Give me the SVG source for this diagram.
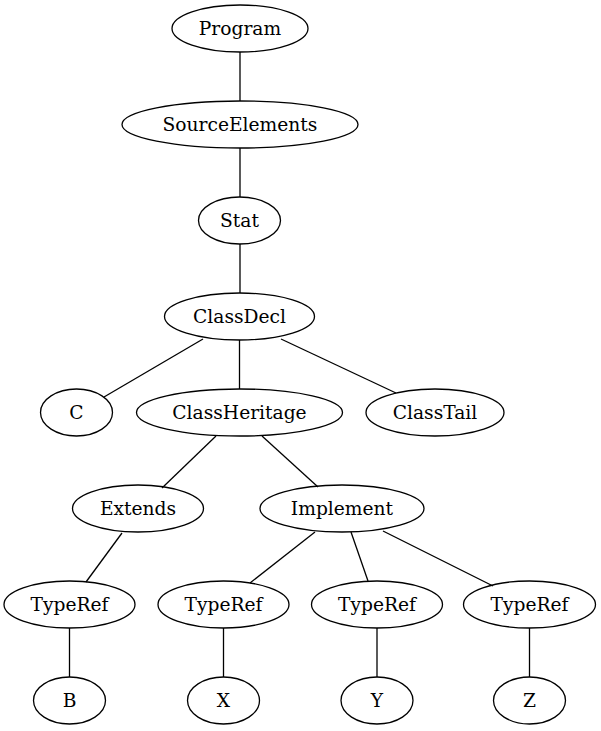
<svg xmlns="http://www.w3.org/2000/svg" width="601" height="731" viewBox="0 0 601 731">
<style>
  .node ellipse { fill: none; stroke: #000; stroke-width: 1.3; }
  .node text { font-family: "DejaVu Serif", "Liberation Serif", serif; font-size: 18.67px; text-anchor: middle; fill: #000; }
  #edges line { stroke: #000; stroke-width: 1.3; }
</style>
<rect width="601" height="731" fill="#fff"/>
<g id="edges">
  <line x1="240" y1="52" x2="240" y2="101"/>
  <line x1="240" y1="148" x2="240" y2="197"/>
  <line x1="240" y1="244" x2="240" y2="293"/>
  <line x1="203" y1="339" x2="104" y2="397"/>
  <line x1="239.5" y1="340" x2="239.5" y2="389"/>
  <line x1="281" y1="339" x2="396" y2="393"/>
  <line x1="216" y1="436" x2="162" y2="488"/>
  <line x1="262" y1="436" x2="318" y2="487"/>
  <line x1="122" y1="533" x2="86" y2="582"/>
  <line x1="315" y1="532" x2="250" y2="583"/>
  <line x1="351" y1="532" x2="368" y2="581"/>
  <line x1="383" y1="531" x2="493" y2="586"/>
  <line x1="69.5" y1="628" x2="69.5" y2="677"/>
  <line x1="223.5" y1="628" x2="223.5" y2="677"/>
  <line x1="377" y1="628" x2="377" y2="677"/>
  <line x1="529.5" y1="628" x2="529.5" y2="677"/>
</g>
<g id="program" class="node"><ellipse cx="240" cy="28.5" rx="68" ry="23.5"/><text x="240" y="34.5">Program</text></g>
<g id="sourceelements" class="node"><ellipse cx="240" cy="124.5" rx="118" ry="23.5"/><text x="240" y="130.5">SourceElements</text></g>
<g id="stat" class="node"><ellipse cx="239.5" cy="220.5" rx="41" ry="23.5"/><text x="239.5" y="226.5">Stat</text></g>
<g id="classdecl" class="node"><ellipse cx="239.5" cy="316.5" rx="75" ry="23.5"/><text x="239.5" y="322.5">ClassDecl</text></g>
<g id="c" class="node"><ellipse cx="76.5" cy="412.5" rx="36" ry="23.5"/><text x="76.5" y="418.5">C</text></g>
<g id="classheritage" class="node"><ellipse cx="239.5" cy="412.5" rx="103" ry="23.5"/><text x="239.5" y="418.5">ClassHeritage</text></g>
<g id="classtail" class="node"><ellipse cx="435" cy="412.5" rx="69" ry="23.5"/><text x="435" y="418.5">ClassTail</text></g>
<g id="extends" class="node"><ellipse cx="138" cy="508.5" rx="65.5" ry="23.5"/><text x="138" y="514.5">Extends</text></g>
<g id="implement" class="node"><ellipse cx="342" cy="508.5" rx="82" ry="23.5"/><text x="342" y="514.5">Implement</text></g>
<g id="typeref1" class="node"><ellipse cx="69.5" cy="604.5" rx="65.5" ry="23.5"/><text x="69.5" y="610.5">TypeRef</text></g>
<g id="typeref2" class="node"><ellipse cx="223.5" cy="604.5" rx="65.5" ry="23.5"/><text x="223.5" y="610.5">TypeRef</text></g>
<g id="typeref3" class="node"><ellipse cx="377" cy="604.5" rx="65.5" ry="23.5"/><text x="377" y="610.5">TypeRef</text></g>
<g id="typeref4" class="node"><ellipse cx="529.5" cy="604.5" rx="66" ry="23.5"/><text x="529.5" y="610.5">TypeRef</text></g>
<g id="b" class="node"><ellipse cx="69.5" cy="700.5" rx="36" ry="23.5"/><text x="69.5" y="706.5">B</text></g>
<g id="x" class="node"><ellipse cx="223.5" cy="700.5" rx="36" ry="23.5"/><text x="223.5" y="706.5">X</text></g>
<g id="y" class="node"><ellipse cx="377" cy="700.5" rx="36" ry="23.5"/><text x="377" y="706.5">Y</text></g>
<g id="z" class="node"><ellipse cx="529.5" cy="700.5" rx="36" ry="23.5"/><text x="529.5" y="706.5">Z</text></g>
</svg>
